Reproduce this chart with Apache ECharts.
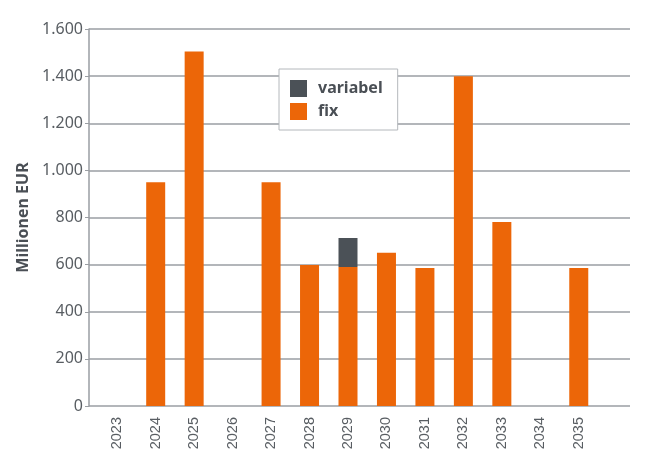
<!DOCTYPE html>
<html><head><meta charset="utf-8">
<script src="https://cdn.jsdelivr.net/npm/echarts@6/dist/echarts.min.js"></script>
<style>html,body{margin:0;padding:0;background:#fff}#c{width:647px;height:459px}</style>
</head><body><div id="c"></div>
<script>
const years = ['2023','2024','2025','2026','2027','2028','2029','2030','2031','2032','2033','2034','2035'];
const fix = [0, 950, 1505, 0, 950, 598, 590, 650, 586, 1400, 781, 0, 586];
const variabel = [0, 0, 0, 0, 0, 0, 123, 0, 0, 0, 0, 0, 0];
const yTicks = [0, 200, 400, 600, 800, 1000, 1200, 1400, 1600];

const FONT = '"Noto Sans", sans-serif';
const XFONT = '"Liberation Sans", Arial, sans-serif';
const ORANGE = '#ec6608';
const DARK = '#4b5157';
const GRIDC = '#9a9ea3';
const TXT = '#585d62';

const chart = echarts.init(document.getElementById('c'));
chart.setOption({
  animation: false,
  textStyle: { fontFamily: FONT },
  grid: [
    { left: 89, right: 17, top: 29, bottom: 53 },
    { left: 98, right: 49, top: 29, bottom: 53 }
  ],
  legend: {
    data: ['variabel', 'fix'],
    orient: 'vertical',
    left: 279, top: 69,
    backgroundColor: '#fff',
    borderColor: '#b4b8bc', borderWidth: 1,
    padding: [11, 15, 10, 11],
    itemWidth: 17, itemHeight: 17, itemGap: 6,
    icon: 'rect',
    textStyle: { fontFamily: FONT, fontSize: 16, fontWeight: 'bold', color: '#4a4f55', padding: [0, 0, 0, 6] }
  },
  xAxis: [
    { type: 'category', gridIndex: 0, data: years, show: false },
    {
      type: 'category', gridIndex: 1, data: years,
      axisLine: { show: false }, axisTick: { show: false },
      axisLabel: { rotate: 90, fontSize: 14.5, color: TXT, margin: 11, fontFamily: XFONT, interval: 0 }
    }
  ],
  yAxis: [
    {
      type: 'value', gridIndex: 0, min: 0, max: 1600, interval: 200,
      name: 'Millionen EUR', nameLocation: 'middle', nameGap: 57,
      nameTextStyle: { fontFamily: FONT, fontSize: 16, fontWeight: 'bold', color: '#4a4f55' },
      axisLine: { show: true, lineStyle: { color: GRIDC, width: 1.5 } },
      axisTick: { show: true, length: 4, lineStyle: { color: GRIDC } },
      axisLabel: {
        fontSize: 16, color: TXT, margin: 6, fontFamily: FONT,
        formatter: v => String(v).replace(/\B(?=(\d{3})+(?!\d))/g, '.')
      },
      splitLine: { show: true, lineStyle: { color: GRIDC, width: 1.5 } }
    },
    { type: 'value', gridIndex: 1, min: 0, max: 1600, interval: 200, show: false }
  ],
  series: [
    {
      name: 'fix', type: 'bar', stack: 's', xAxisIndex: 1, yAxisIndex: 1,
      data: fix, barWidth: 19, itemStyle: { color: ORANGE }
    },
    {
      name: 'variabel', type: 'bar', stack: 's', xAxisIndex: 1, yAxisIndex: 1,
      data: variabel, barWidth: 19, itemStyle: { color: DARK }
    }
  ]
});
</script></body></html>
